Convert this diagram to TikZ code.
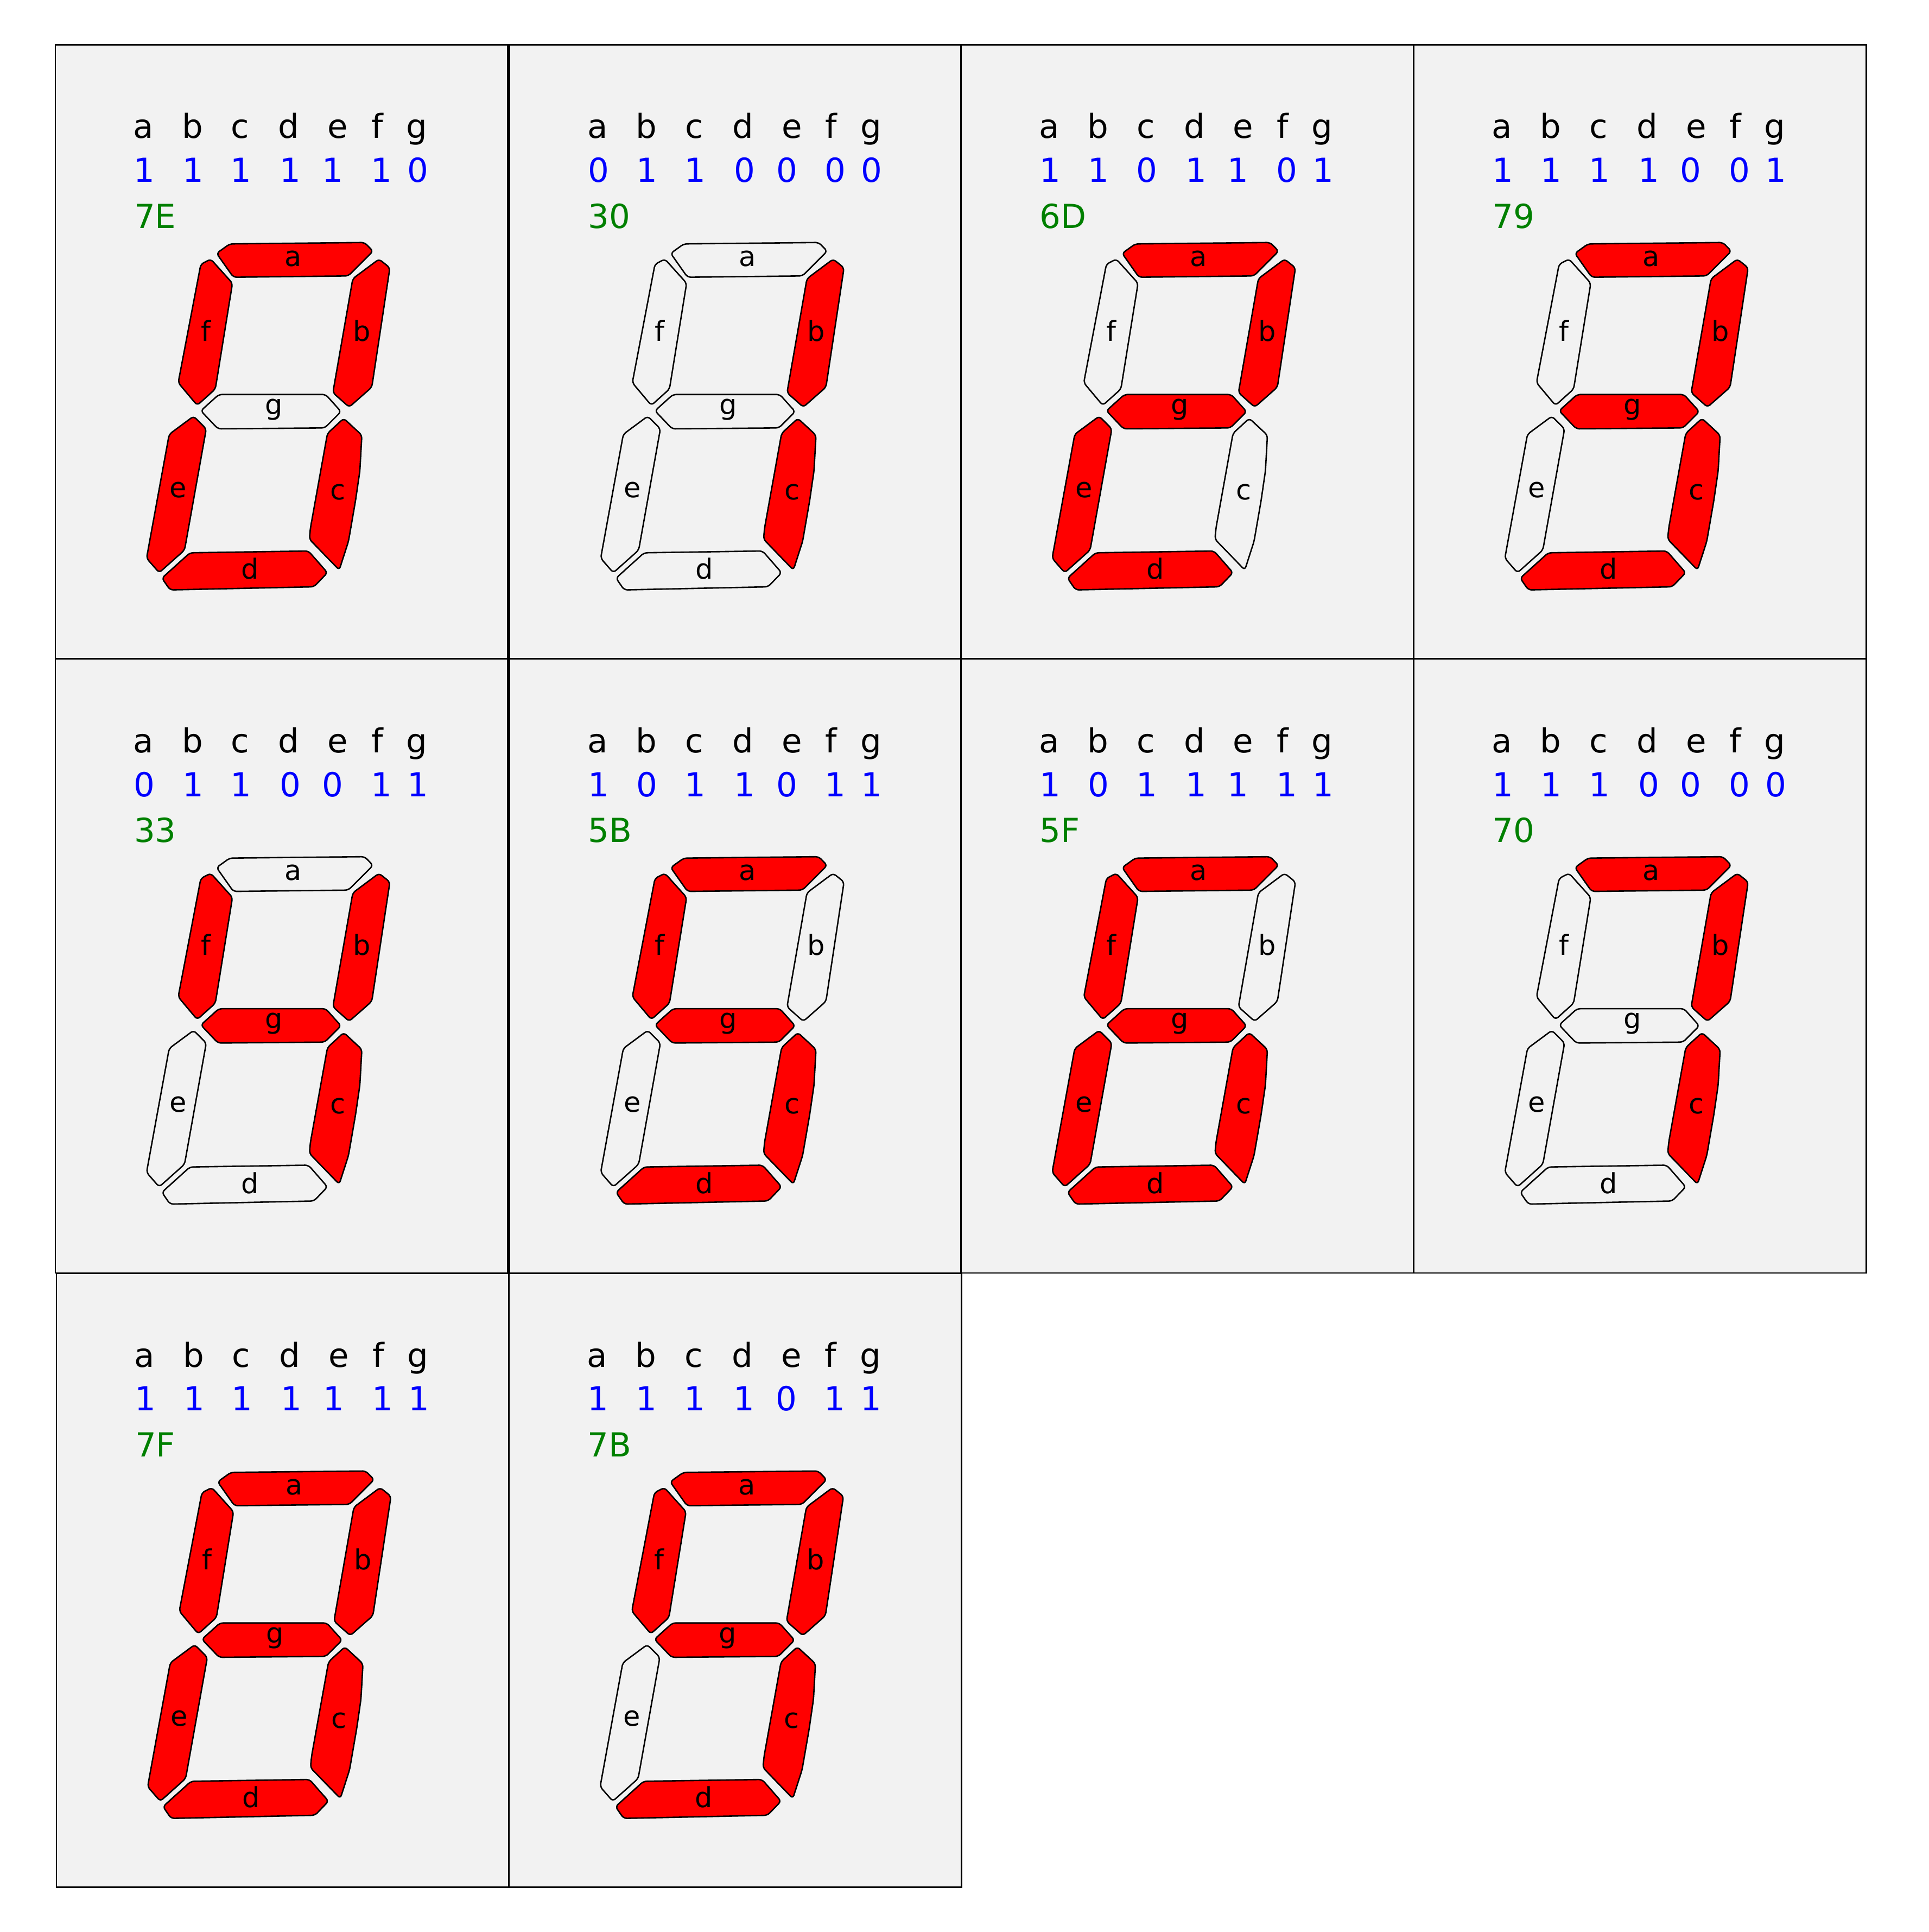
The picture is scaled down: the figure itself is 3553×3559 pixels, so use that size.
\documentclass[tikz,border=0pt]{standalone}
\usepackage{fontspec}
\setmainfont{DejaVu Sans}
\definecolor{panelbg}{RGB}{242,242,242}
\definecolor{hexgreen}{RGB}{0,128,0}
\definecolor{bitblue}{RGB}{0,0,255}
\definecolor{segred}{RGB}{255,0,0}
\tikzset{
  panelbox/.style={draw=black, line width=2.7pt, fill=panelbg},
  seg1/.style={draw=black, line width=2.6pt, fill=segred, rounded corners=6pt, line join=round},
  seg0/.style={draw=black, line width=2.6pt, rounded corners=6pt, line join=round},
  hdr/.style={anchor=base, inner sep=0pt, font=\fontsize{61}{70}\selectfont},
  bit/.style={hdr, text=bitblue},
  hexlbl/.style={anchor=base west, inner sep=0pt, font=\fontsize{61}{70}\selectfont, text=hexgreen},
  seglbl/.style={anchor=base, inner sep=0pt, font=\fontsize{51}{60}\selectfont},
}
% panel frame: #1 width
\newcommand\panelframe[1]{%
  \path[panelbox] (0,0) rectangle (#1,1131.4);
}
% header and seven segments: #1 hex, #2..#8 = a..g (1 lit, 0 dark)
\newcommand\segs[8]{%
  \node[hdr] (la) at (162.4,172.7) {a};
  \node[hdr] (lb) at (252.4,172.7) {b};
  \node[hdr] (lc) at (340.4,172.7) {c};
  \node[hdr] (ld) at (430.3,172.7) {d};
  \node[hdr] (le) at (520.3,172.7) {e};
  \node[hdr] (lf) at (593,172.7) {f};
  \node[hdr] (lg) at (665.7,172.7) {g};
  \node[bit] (ba) at (164.4,253.6) {#2};
  \node[bit] (bb) at (253.5,253.6) {#3};
  \node[bit] (bc) at (342.3,253.6) {#4};
  \node[bit] (bd) at (433,253.6) {#5};
  \node[bit] (be) at (510.7,253.6) {#6};
  \node[bit] (bf) at (600.6,253.6) {#7};
  \node[bit] (bg) at (667.6,253.6) {#8};
  \node[hexlbl] (hex) at (145,338) {#1};
  % a
  \path[seg#2] (297,384.4) -- (321.3,367) -- (569.7,364.4) -- (585.3,380.4) -- (539.7,426) -- (328,428.4) -- cycle;
  % b
  \path[seg#3] (596.3,395) -- (616.3,411) -- (583,631) -- (541.3,667.7) -- (511.3,641) -- (548,431) -- cycle;
  % c
  \path[seg#4] (531.3,688.4) -- (564.7,719.4) -- (561,785) -- (553,840) -- (540,915) -- (523,967.7) -- (468,911) -- (470,890) -- (501.3,716) -- cycle;
  % d
  \path[seg#5] (196.3,982.7) -- (248,936) -- (466.3,932.7) -- (501.3,972.7) -- (476.3,998.7) -- (211.3,1004.4) -- cycle;
  % e
  \path[seg#6] (254.7,684.4) -- (278,707.7) -- (238,931) -- (191.3,972.7) -- (168,946) -- (209.7,717.7) -- cycle;
  % f
  \path[seg#7] (286.3,395) -- (326.3,439.4) -- (294.7,634.4) -- (261.3,664.4) -- (226.3,622.7) -- (268,404.4) -- cycle;
  % g
  \path[seg#8] (268,674.4) -- (301.3,644.4) -- (498,644.4) -- (526.3,676) -- (496.3,706) -- (299.7,707.7) -- cycle;
  \node[seglbl] (sa) at (438,407.7) {a};
  \node[seglbl] (sb) at (564.7,546) {b};
  \node[seglbl] (sc) at (520.7,837.7) {c};
  \node[seglbl] (sd) at (358.7,984.4) {d};
  \node[seglbl] (se) at (226.3,834.4) {e};
  \node[seglbl] (sf) at (277,546) {f};
  \node[seglbl] (sg) at (403,681) {g};
}
\begin{document}
\begin{tikzpicture}[x=1pt, y=-1pt]
\useasboundingbox[fill=white] (0,0) rectangle (3553,3559);
% row 1
\begin{scope}[shift={(102,82.3)}, name prefix=p1-]
  \panelframe{833.4}\segs{7E}{1}{1}{1}{1}{1}{1}{0}
\end{scope}
\begin{scope}[shift={(938.7,82.3)}, name prefix=p2-]
  \panelframe{831.7}\segs{30}{0}{1}{1}{0}{0}{0}{0}
\end{scope}
\begin{scope}[shift={(1770.4,82.3)}, name prefix=p3-]
  \panelframe{834.2}\segs{6D}{1}{1}{0}{1}{1}{0}{1}
\end{scope}
\begin{scope}[shift={(2604.5,82.3)}, name prefix=p4-]
  \panelframe{834.2}\segs{79}{1}{1}{1}{1}{0}{0}{1}
\end{scope}
% row 2
\begin{scope}[shift={(102,1213.7)}, name prefix=p5-]
  \panelframe{833.4}\segs{33}{0}{1}{1}{0}{0}{1}{1}
\end{scope}
\begin{scope}[shift={(938.7,1213.7)}, name prefix=p6-]
  \panelframe{831.7}\segs{5B}{1}{0}{1}{1}{0}{1}{1}
\end{scope}
\begin{scope}[shift={(1770.4,1213.7)}, name prefix=p7-]
  \panelframe{834.2}\segs{5F}{1}{0}{1}{1}{1}{1}{1}
\end{scope}
\begin{scope}[shift={(2604.5,1213.7)}, name prefix=p8-]
  \panelframe{834.2}\segs{70}{1}{1}{1}{0}{0}{0}{0}
\end{scope}
% row 3
\begin{scope}[shift={(104,2345.3)}, name prefix=p9-]
  \panelframe{833.7}\segs{7F}{1}{1}{1}{1}{1}{1}{1}
\end{scope}
\begin{scope}[shift={(937.7,2345.3)}, name prefix=p10-]
  \panelframe{833.7}\segs{7B}{1}{1}{1}{1}{0}{1}{1}
\end{scope}
\end{tikzpicture}
\end{document}
